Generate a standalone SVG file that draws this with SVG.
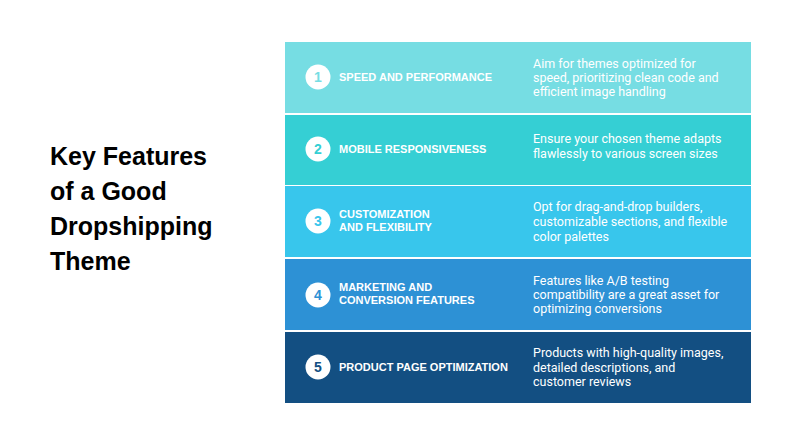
<svg xmlns="http://www.w3.org/2000/svg" width="800" height="445" viewBox="0 0 800 445">
<style>
.t{font-family:"Liberation Sans",Arial,sans-serif;font-weight:bold;font-size:11px;fill:#fff}
.d{font-family:Roboto,"Liberation Sans",sans-serif;font-size:12.5px;fill:#fff}
.n{font-family:"Liberation Sans",Arial,sans-serif;font-weight:bold;font-size:14px;text-anchor:middle}
.h{font-family:"Liberation Sans",Arial,sans-serif;font-weight:bold;font-size:25px;fill:#000}
</style>
<rect width="800" height="445" fill="#fff"/>
<g id="title"><text class="h" x="50" y="165">Key Features</text><text class="h" x="50" y="200">of a Good</text><text class="h" x="50" y="235">Dropshipping</text><text class="h" x="50" y="270">Theme</text></g>
<g id="row1"><rect x="285" y="42" width="466" height="71" fill="#76DDE3"/><circle cx="318" cy="77" r="12.5" fill="#fff"/><text class="n" x="318" y="82" fill="#76DDE3">1</text><text class="t" x="339" y="81">SPEED AND PERFORMANCE</text><text class="d" x="533" y="68">Aim for themes optimized for</text><text class="d" x="533" y="82">speed, prioritizing clean code and</text><text class="d" x="533" y="96">efficient image handling</text></g>
<g id="row2"><rect x="285" y="115" width="466" height="70" fill="#35CFD4"/><circle cx="318" cy="149" r="12.5" fill="#fff"/><text class="n" x="318" y="154" fill="#35CFD4">2</text><text class="t" x="339" y="153">MOBILE RESPONSIVENESS</text><text class="d" x="533" y="143">Ensure your chosen theme adapts</text><text class="d" x="533" y="158">flawlessly to various screen sizes</text></g>
<g id="row3"><rect x="285" y="186" width="466" height="71" fill="#38C6EC"/><circle cx="318" cy="221" r="12.5" fill="#fff"/><text class="n" x="318" y="226" fill="#38C6EC">3</text><text class="t" x="339" y="218">CUSTOMIZATION</text><text class="t" x="339" y="231">AND FLEXIBILITY</text><text class="d" x="533" y="211">Opt for drag-and-drop builders,</text><text class="d" x="533" y="226">customizable sections, and flexible</text><text class="d" x="533" y="241">color palettes</text></g>
<g id="row4"><rect x="285" y="259" width="466" height="71" fill="#2D91D5"/><circle cx="318" cy="295" r="12.5" fill="#fff"/><text class="n" x="318" y="300" fill="#2D91D5">4</text><text class="t" x="339" y="291">MARKETING AND</text><text class="t" x="339" y="304">CONVERSION FEATURES</text><text class="d" x="533" y="285">Features like A/B testing</text><text class="d" x="533" y="299">compatibility are a great asset for</text><text class="d" x="533" y="313">optimizing conversions</text></g>
<g id="row5"><rect x="285" y="332" width="466" height="71" fill="#134F82"/><circle cx="318" cy="367" r="12.5" fill="#fff"/><text class="n" x="318" y="372" fill="#134F82">5</text><text class="t" x="339" y="371">PRODUCT PAGE OPTIMIZATION</text><text class="d" x="533" y="357">Products with high-quality images,</text><text class="d" x="533" y="372">detailed descriptions, and</text><text class="d" x="533" y="386">customer reviews</text></g>
<g id="connectors"/>
</svg>
